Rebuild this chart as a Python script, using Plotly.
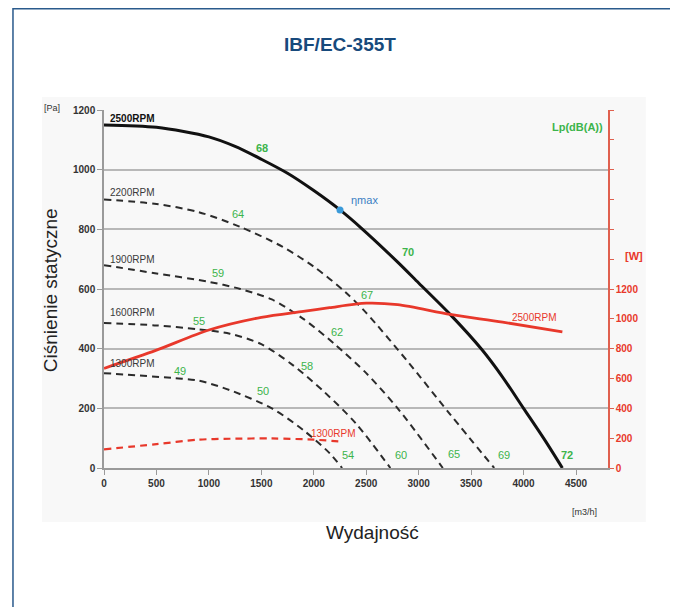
import plotly.graph_objects as go

# ---------------- data ----------------
flow_2500 = [0, 500, 1000, 1250, 1500, 1750, 2000, 2250, 2450, 2800, 3000, 3300, 3600, 3800, 4000, 4200, 4370]
pres_2500 = [1150, 1142, 1110, 1078, 1035, 988, 930, 865, 805, 690, 620, 515, 398, 305, 200, 95, 0]

flow_2200 = [0, 500, 900, 1300, 1700, 2000, 2300, 2500, 2900, 3300, 3720]
pres_2200 = [900, 885, 858, 808, 742, 675, 590, 520, 355, 180, 0]

flow_1900 = [0, 500, 1000, 1300, 1600, 1900, 2200, 2500, 2800, 3230]
pres_1900 = [680, 652, 624, 600, 565, 500, 415, 318, 200, 0]

flow_1600 = [0, 500, 900, 1200, 1500, 1800, 2100, 2400, 2730]
pres_1600 = [486, 478, 465, 450, 415, 345, 255, 150, 0]

flow_1300 = [0, 650, 900, 1200, 1600, 1900, 2150, 2270]
pres_1300 = [318, 302, 293, 261, 200, 127, 50, 0]

flow_pw2500 = [0, 500, 1000, 1500, 1900, 2150, 2500, 2800, 3300, 3800, 4370]
power_2500 = [668, 790, 925, 1010, 1050, 1075, 1105, 1095, 1030, 978, 912]

flow_pw1300 = [0, 500, 900, 1200, 1600, 2000, 2250]
power_1300 = [125, 160, 190, 196, 198, 190, 178]

eta_max_flow = [2250]
eta_max_pres = [865]

rpm_labels = ["2500RPM", "2200RPM", "1900RPM", "1600RPM", "1300RPM"]
noise_values = [68, 64, 59, 55, 49, 70, 67, 62, 58, 50, 54, 60, 65, 69, 72]

x_ticks = [0, 500, 1000, 1500, 2000, 2500, 3000, 3500, 4000, 4500]
y_ticks = [0, 200, 400, 600, 800, 1000, 1200]
w_ticks = [0, 200, 400, 600, 800, 1000, 1200, 1400, 1600, 1800, 2000, 2200, 2400]
w_tick_text = ["0", "200", "400", "600", "800", "1000", "1200", "", "", "", "", "", ""]

# ---------------- style ----------------
RED = "#e8382b"
RED_AX = "#e0604f"
GREEN = "#3cb44b"
NAVY = "#174a7c"
FONT = "Liberation Sans Narrow, Liberation Sans, Arial, sans-serif"
DASH = "7px,5px"

fig = go.Figure()

def curve(x, y, color, width, dash=None, yaxis="y"):
    fig.add_trace(go.Scatter(
        x=x, y=y, mode="lines", yaxis=yaxis,
        line=dict(color=color, width=width, dash=dash, shape="spline", smoothing=0.8),
        hoverinfo="skip", showlegend=False))

curve(flow_1300, pres_1300, "#2b2b2b", 2, DASH)
curve(flow_1600, pres_1600, "#2b2b2b", 2, DASH)
curve(flow_1900, pres_1900, "#2b2b2b", 2, DASH)
curve(flow_2200, pres_2200, "#2b2b2b", 2, DASH)
curve(flow_2500, pres_2500, "#111111", 3)
curve(flow_pw1300, power_1300, RED, 2.2, DASH, "y2")
curve(flow_pw2500, power_2500, RED, 2.8, None, "y2")

fig.add_trace(go.Scatter(x=eta_max_flow, y=eta_max_pres, mode="markers",
                         marker=dict(color="#3a9ad9", size=7),
                         hoverinfo="skip", showlegend=False))

# ---------------- annotations ----------------
ann = []

def txt(x, y, s, color, size=10, bold=False, xanchor="center", xref="x", yref="y"):
    ann.append(dict(x=x, y=y, xref=xref, yref=yref, text=s, showarrow=False,
                    xanchor=xanchor, yanchor="middle",
                    font=dict(family=FONT, size=size, color=color,
                              weight="bold" if bold else "normal")))

rpm_pos = [(35, 1172), (35, 922), (35, 700), (35, 520), (35, 349)]
rpm_col = ["#111111", "#3a3a3a", "#3a3a3a", "#3a3a3a", "#3a3a3a"]
for s, (x, y), c in zip(rpm_labels, rpm_pos, rpm_col):
    txt(x, y, s, c, size=10, bold=(s == "2500RPM"), xanchor="left")

noise_pos = [(1506, 1073), (1277, 851), (1087, 653), (906, 493), (725, 325),
             (2898, 724), (2507, 580), (2221, 456), (1935, 342), (1516, 258),
             (2330, 44), (2835, 44), (3337, 47), (3810, 44), (4414, 44)]
for v, (x, y) in zip(noise_values, noise_pos):
    txt(x, y, str(v), GREEN, size=11, bold=(v in (68, 70, 72)))

txt(2340, 900, "ηmax", "#3a7fc4", size=11, xanchor="left")
txt(4100, 503, "2500RPM", RED, size=10)
txt(2180, 117, "1300RPM", RED, size=10)
txt(0.995, 0.9525, "Lp(dB(A))", GREEN, size=11, bold=True, xanchor="right", xref="paper", yref="paper")
txt(1.03, 0.592, "[W]", RED, size=11, bold=True, xanchor="left", xref="paper", yref="paper")
txt(-0.103, 1.006, "[Pa]", "#333333", size=9, xref="paper", yref="paper")
txt(0.954, -0.123, "[m3/h]", "#333333", size=9, xref="paper", yref="paper")
txt(0.532, -0.179, "Wydajność", "#222222", size=19, xref="paper", yref="paper", xanchor="center")
txt(0.468, 1.182, "IBF/EC-355T", NAVY, size=19, bold=True, xref="paper", yref="paper")

ann.append(dict(x=-0.107, y=0.497, xref="paper", yref="paper", text="Ciśnienie statyczne",
                showarrow=False, textangle=-90, xanchor="center", yanchor="middle",
                font=dict(family="Liberation Sans, Arial, sans-serif", size=19, color="#222222")))

shapes = [
    dict(type="rect", xref="paper", yref="paper", x0=-0.123, x1=1.075, y0=-0.151, y1=1.036,
         fillcolor="#f8f8f8", line=dict(width=0), layer="below"),
    dict(type="rect", xref="paper", yref="paper", x0=-0.1806, x1=1.127, y0=-0.45, y1=1.2828,
         fillcolor="rgba(0,0,0,0)", line=dict(color="#2a5a8c", width=1.5), layer="below"),
]

tickfont = dict(family=FONT, size=10, color="#333333", weight="bold")

fig.update_layout(
    width=670, height=599,
    margin=dict(l=96, r=70, t=102, b=139),
    paper_bgcolor="white", plot_bgcolor="rgba(0,0,0,0)",
    showlegend=False,
    annotations=ann, shapes=shapes,
    xaxis=dict(range=[0, 4805], tickvals=x_ticks, showgrid=False, zeroline=False,
               showline=True, linecolor="#9a9a9a", linewidth=1.5,
               ticks="outside", ticklen=5, tickcolor="#9a9a9a", tickfont=tickfont),
    yaxis=dict(range=[0, 1200], tickvals=y_ticks, showgrid=True, gridcolor="#b8b8b8",
               gridwidth=1.5, zeroline=False, showline=True, linecolor="#9a9a9a",
               linewidth=1.5, ticks="outside", ticklen=5, tickcolor="#9a9a9a",
               tickfont=tickfont),
    yaxis2=dict(range=[0, 2400], overlaying="y", side="right", tickvals=w_ticks,
                ticktext=w_tick_text, showgrid=False, zeroline=False, showline=True,
                linecolor=RED_AX, linewidth=1.5, ticks="outside", ticklen=4,
                tickcolor=RED_AX, tickfont=dict(family=FONT, size=10, color=RED, weight="bold")),
)

fig.write_html("out.html")
